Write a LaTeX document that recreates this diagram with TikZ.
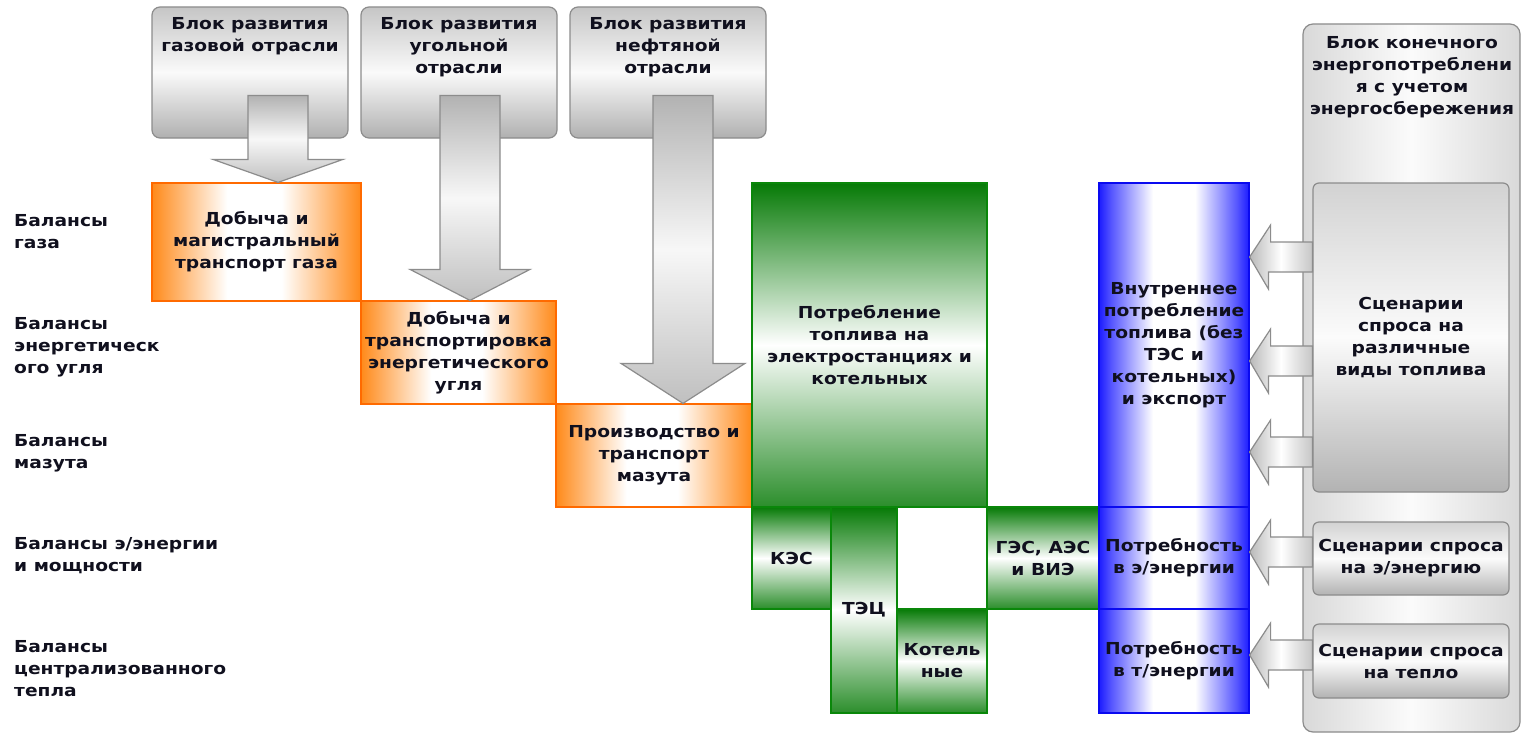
\documentclass[tikz,border=0pt]{standalone}
\usepackage{fontspec}
\setmainfont{DejaVu Sans}[FakeStretch=1.13]
\usetikzlibrary{positioning,calc}
\definecolor{ink}{HTML}{10101E}
\definecolor{orng}{HTML}{FF8A1A}
\definecolor{orngdk}{HTML}{FF6A00}
\definecolor{grn}{HTML}{067A06}
\definecolor{grndk}{HTML}{0A870A}
\definecolor{blu}{HTML}{1C1CFF}
\definecolor{bludk}{HTML}{0A0AF0}
\definecolor{edge}{HTML}{8C8C8C}
\pgfdeclarehorizontalshading{orngband}{100bp}{color(0bp)=(orng); color(25bp)=(orng);
  color(43bp)=(white); color(56bp)=(white); color(75bp)=(orng); color(100bp)=(orng)}
\pgfdeclarehorizontalshading{bluband}{100bp}{color(0bp)=(blu); color(25bp)=(blu);
  color(29bp)=(blu!75); color(43bp)=(white); color(57bp)=(white); color(71bp)=(blu!75);
  color(75bp)=(blu); color(100bp)=(blu)}

\begin{document}
\begin{tikzpicture}[x=1pt,y=-1pt,
  txt/.style={font=\bfseries\fontsize{16.5}{22}\selectfont,text=ink,align=center,inner sep=0pt},
  cell/.style={txt,draw,line width=1.2pt},
  obox/.style={cell,draw=orngdk,shade,shading=orngband},
  gbox/.style={cell,draw=grndk,top color=grn,bottom color=grn!85,middle color=white},
  bbox/.style={cell,draw=bludk,shade,shading=bluband},
  devblock/.style={cell,draw=edge,rounded corners=8pt,top color=gray!45,bottom color=gray!62,middle color=gray!4},
  scen/.style={cell,draw=edge,rounded corners=6pt,top color=gray!35,bottom color=gray!60,middle color=gray!3},
  panel/.style={cell,draw=edge,rounded corners=10pt,left color=gray!30,right color=gray!30,middle color=gray!3},
  downarr/.style={draw=edge,line width=1.2pt,top color=gray!60,bottom color=gray!50,middle color=gray!6},
  sidearr/.style={draw=edge,line width=1.2pt,left color=gray!55,right color=gray!45,middle color=white},
  lbl/.style={txt,align=left,anchor=west}]

  \fill[white] (0,0) rectangle (1522,733);
  \useasboundingbox (0,0) rectangle (1522,733);

  % Development blocks on top
  \node[devblock,minimum width=196pt,minimum height=131pt] (gasdev) at (250,72.5) {};
  \node[txt] (gasdevt) at (250,36) {Блок развития\\газовой отрасли};
  \node[devblock,minimum width=196pt,minimum height=131pt] (coaldev) at (459,72.5) {};
  \node[txt] (coaldevt) at (459,47) {Блок развития\\угольной\\отрасли};
  \node[devblock,minimum width=196pt,minimum height=131pt] (oildev) at (668,72.5) {};
  \node[txt] (oildevt) at (668,47) {Блок развития\\нефтяной\\отрасли};

  % Production and transport (orange staircase)
  \node[obox,minimum width=209pt,minimum height=118pt] (gasprod) at (256.5,242)
    {Добыча и\\магистральный\\транспорт газа};
  \node[obox,minimum width=195pt,minimum height=103pt] (coalprod) at (458.5,352.5)
    {Добыча и\\транспортировка\\энергетического\\угля};
  \node[obox,minimum width=196pt,minimum height=103pt] (oilprod) at (654,455.5)
    {Производство и\\транспорт\\мазута};

  % Block arrows from the development blocks
  \foreach \src/\dst/\xx/\hl/\hw in {gasdev/gasprod/278/23/65,
      coaldev/coalprod/470/31/60,oildev/oilprod/683/40/62}
    \path[downarr] (\dst.north -| \xx,0) -- ++(-\hw,-\hl) -- ++(\hw-30,0)
      -- ($(\src.south -| \xx,0)+(-30,-43)$) -- ++(60,0)
      -- ($(\dst.north -| \xx,0)+(30,-\hl)$) -- ++(\hw-30,0) -- cycle;

  % Power stations and boilers (green)
  \node[gbox,minimum width=235pt,minimum height=324pt] (fuelpp) at (869.5,345)
    {Потребление\\топлива на\\электростанциях и\\котельных};
  \node[gbox,minimum width=79pt,minimum height=102pt] (kes) at (791.5,558) {КЭС};
  \node[gbox,minimum width=66pt,minimum height=206pt] (tec) at (864,610) {ТЭЦ};
  \node[gbox,minimum width=90pt,minimum height=104pt] (boil) at (942,661) {Котель\\ные};
  \node[gbox,minimum width=112pt,minimum height=102pt] (hydro) at (1043,558)
    {ГЭС, АЭС\\и ВИЭ};

  % Domestic demand column (blue)
  \node[bbox,minimum width=150pt,minimum height=324pt] (domestic) at (1174,345)
    {Внутреннее\\потребление\\топлива (без\\ТЭС и\\котельных)\\и экспорт};
  \node[bbox,minimum width=150pt,minimum height=102pt] (needel) at (1174,558)
    {Потребность\\в э/энергии};
  \node[bbox,minimum width=150pt,minimum height=104pt] (needheat) at (1174,661)
    {Потребность\\в т/энергии};

  % Final consumption panel
  \node[panel,minimum width=217pt,minimum height=708pt] (endpanel) at (1411.5,378) {};
  \node[txt] (endtitle) at (1412,77)
    {Блок конечного\\энергопотреблени\\я с учетом\\энергосбережения};
  \node[scen,minimum width=196pt,minimum height=309pt] (scfuel) at (1411,337.5)
    {Сценарии\\спроса на\\различные\\виды топлива};
  \node[scen,minimum width=196pt,minimum height=73pt] (scel) at (1411,558.5)
    {Сценарии спроса\\на э/энергию};
  \node[scen,minimum width=196pt,minimum height=74pt] (scheat) at (1411,661)
    {Сценарии спроса\\на тепло};

  \foreach \yy/\dst/\src in {257/domestic/scfuel,361/domestic/scfuel,
      452/domestic/scfuel,552/needel/scel,655/needheat/scheat}
    \path[sidearr] (\dst.east |- 0,\yy) -- ++(21,-32) -- ++(0,17)
      -- (\src.west |- 0,\yy-15) -- ++(0,30) -- ++(-44,0) -- ++(0,17) -- cycle;

  % Balance rows
  \node[lbl] (balgas) at (14,231.5) {Балансы\\газа};
  \node[lbl] (balcoal) at (14,347) {Балансы\\энергетическ\\ого угля};
  \node[lbl] (baloil) at (14,453) {Балансы\\мазута};
  \node[lbl] (balel) at (14,556) {Балансы э/энергии\\и мощности};
  \node[lbl] (balheat) at (14,669) {Балансы\\централизованного\\тепла};
\end{tikzpicture}
\end{document}
